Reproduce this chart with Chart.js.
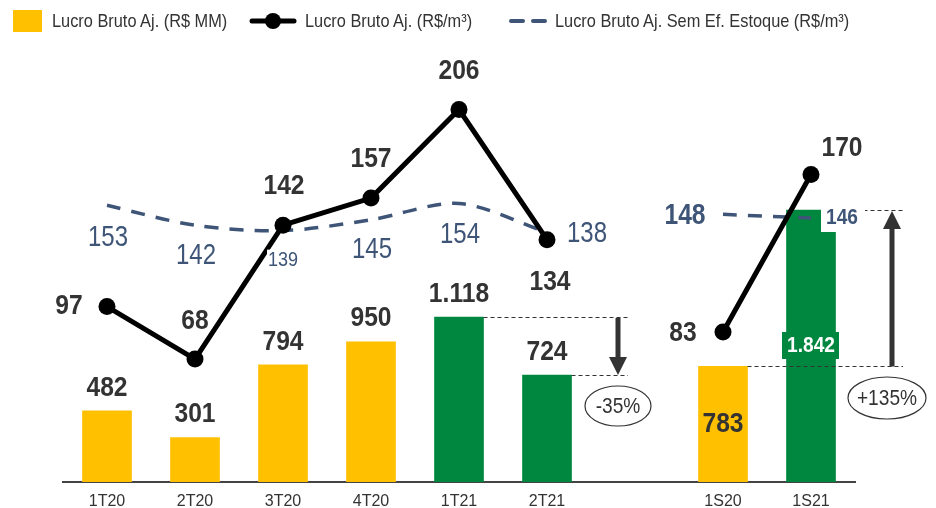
<!DOCTYPE html>
<html lang="pt-BR">
<head>
  <meta charset="UTF-8" />
  <title>Lucro Bruto Ajustado</title>
  <script src="https://cdn.jsdelivr.net/npm/chart.js"></script>
  <style>
    html, body { margin: 0; padding: 0; background: #fff; }
    body { font-family: 'Liberation Sans', Arial, sans-serif; }
    #wrap { position: relative; width: 936px; height: 508px; }
    .leg { position: absolute; top: 0; height: 42px; display: flex; align-items: center; font-size: 19px; color: #333; white-space: nowrap; }
    .leg span { display: inline-block; transform: scaleX(0.86); transform-origin: left center; }
    .leg svg { display: block; }
    canvas { position: absolute; left: 0; top: 0; }
  </style>
</head>
<body>
<div id="wrap">
  <canvas id="chart" width="936" height="508"></canvas>
  <div class="leg" style="left:13px;">
    <svg width="29" height="22"><rect width="29" height="22" fill="#FFC000"/></svg>
  </div>
  <div class="leg" style="left:52px;"><span>Lucro Bruto Aj. (R$ MM)</span></div>
  <div class="leg" style="left:249px;">
    <svg width="48" height="20"><line x1="3" y1="10" x2="45" y2="10" stroke="#000" stroke-width="5" stroke-linecap="round"/><circle cx="24" cy="10" r="8" fill="#000"/></svg>
  </div>
  <div class="leg" style="left:305px;"><span>Lucro Bruto Aj. (R$/m³)</span></div>
  <div class="leg" style="left:509px;">
    <svg width="38" height="20"><line x1="2" y1="10" x2="36" y2="10" stroke="#3E5578" stroke-width="4" stroke-dasharray="12 10" stroke-linecap="round"/></svg>
  </div>
  <div class="leg" style="left:555px;"><span>Lucro Bruto Aj. Sem Ef. Estoque (R$/m³)</span></div>
</div>

<script>
  // data
  const categories = ['1T20', '2T20', '3T20', '4T20', '1T21', '2T21', '', '1S20', '1S21'];
  const lucroMM = [482, 301, 794, 950, 1118, 724, null, 783, 1842];
  const lucroM3 = [97, 68, 142, 157, 206, 134, null, 83, 170];
  const lucroSemEstoque = [153, 142, 139, 145, 154, 138, null, 148, 146];
  const variacoes = ['-35%', '+135%'];

  const YELLOW = '#FFC000';
  const GREEN = '#00873F';
  const DARK = '#333333';
  const SLATE = '#3E5578';
  const FONT = "'Liberation Sans', Arial, sans-serif";

  const barColors = categories.map(c => c.indexOf('21') > -1 ? GREEN : YELLOW);

  const fmt = v => String(v).replace(/\B(?=(\d{3})+(?!\d))/g, '.');

  // label placement (offsets from the mark, in px)
  const m3Pos = [[-38, 0], [0, -38], [1, -39], [0, -39], [0, -38], [3, 43], null, [-40, 1], [31, -26]];
  const semPos = [[1, 32], [1, 31], [0, 30], [1, 30], [1, 31], [40, 1], null, [-38, 2], [31, 0]];

  // narrow-looking text: squeeze horizontally
  function text(ctx, str, x, y, font, color, sx) {
    ctx.save();
    ctx.font = font;
    ctx.fillStyle = color;
    ctx.textAlign = 'center';
    ctx.textBaseline = 'middle';
    ctx.translate(x, y);
    ctx.scale(sx || 0.88, 1);
    ctx.fillText(str, 0, 0);
    ctx.restore();
  }

  function arrow(ctx, x, y1, y2) {
    // shaft from y1 to y2, head at y2
    const dir = y2 > y1 ? 1 : -1;
    const head = 18;
    ctx.strokeStyle = DARK;
    ctx.fillStyle = DARK;
    ctx.lineWidth = 5;
    ctx.setLineDash([]);
    ctx.beginPath();
    ctx.moveTo(x, y1);
    ctx.lineTo(x, y2 - dir * head);
    ctx.stroke();
    ctx.beginPath();
    ctx.moveTo(x - 9, y2 - dir * head);
    ctx.lineTo(x + 9, y2 - dir * head);
    ctx.lineTo(x, y2);
    ctx.closePath();
    ctx.fill();
  }

  function dashed(ctx, x1, x2, y) {
    ctx.strokeStyle = DARK;
    ctx.lineWidth = 1;
    ctx.setLineDash([4, 3]);
    ctx.beginPath();
    ctx.moveTo(x1, Math.round(y) + 0.5);
    ctx.lineTo(x2, Math.round(y) + 0.5);
    ctx.stroke();
    ctx.setLineDash([]);
  }

  function badge(ctx, str, x, y, rx, ry) {
    ctx.strokeStyle = DARK;
    ctx.lineWidth = 1.2;
    ctx.setLineDash([]);
    ctx.beginPath();
    ctx.ellipse(x, y, rx, ry, 0, 0, Math.PI * 2);
    ctx.fillStyle = '#fff';
    ctx.fill();
    ctx.stroke();
    text(ctx, str, x, y + 1, '22px ' + FONT, DARK, 0.87);
  }

  const labelsPlugin = {
    id: 'labels',
    afterDatasetsDraw(chart) {
      const ctx = chart.ctx;
      const bars = chart.getDatasetMeta(2).data;
      const m3 = chart.getDatasetMeta(0).data;
      const sem = chart.getDatasetMeta(1).data;
      ctx.save();

      // annotations between periods
      const b1 = bars[4], b2 = bars[5], s1 = bars[7], s2 = bars[8];
      dashed(ctx, b1.x + b1.width / 2, 628, b1.y);
      dashed(ctx, b2.x + b2.width / 2, 628, b2.y);
      arrow(ctx, 618, b1.y + 1, b2.y);
      badge(ctx, variacoes[0], 618, 406, 33, 20);
      dashed(ctx, s1.x + s1.width / 2, 903, s1.y);
      dashed(ctx, s2.x + s2.width / 2, 903, s2.y);
      arrow(ctx, 892, s1.y, s2.y + 1);
      badge(ctx, variacoes[1], 887, 398, 39, 21);

      // bar labels
      bars.forEach((b, i) => {
        if (lucroMM[i] == null) return;
        if (i === 7) {
          text(ctx, fmt(lucroMM[i]), b.x, b.y + 58, 'bold 28px ' + FONT, DARK);
        } else if (i === 8) {
          ctx.fillStyle = GREEN;
          ctx.fillRect(b.x - 29, 332, 57, 27);
          text(ctx, fmt(lucroMM[i]), b.x, 346, 'bold 22px ' + FONT, '#fff', 0.87);
        } else {
          text(ctx, fmt(lucroMM[i]), b.x, b.y - 23, 'bold 28px ' + FONT, DARK);
        }
      });

      // "sem efeito estoque" labels
      sem.forEach((p, i) => {
        if (lucroSemEstoque[i] == null) return;
        const x = p.x + semPos[i][0], y = p.y + semPos[i][1];
        const s = String(lucroSemEstoque[i]);
        if (i === 2) {
          ctx.fillStyle = '#fff';
          ctx.fillRect(x - 16, y - 11, 32, 22);
          text(ctx, s, x, y, '20px ' + FONT, SLATE, 0.9);
        } else if (i === 7) {
          text(ctx, s, x, y, 'bold 29px ' + FONT, SLATE, 0.85);
        } else if (i === 8) {
          ctx.fillStyle = '#fff';
          ctx.fillRect(x - 21, y - 14, 44, 28);
          text(ctx, s, x, y, 'bold 22px ' + FONT, SLATE, 0.87);
        } else {
          text(ctx, s, x, y, '30px ' + FONT, SLATE, 0.8);
        }
      });

      // R$/m3 labels
      m3.forEach((p, i) => {
        if (lucroM3[i] == null) return;
        text(ctx, String(lucroM3[i]), p.x + m3Pos[i][0], p.y + m3Pos[i][1], 'bold 28px ' + FONT, DARK);
      });

      ctx.restore();
    }
  };

  new Chart(document.getElementById('chart'), {
    type: 'bar',
    data: {
      labels: categories,
      datasets: [
        {
          type: 'line',
          label: 'Lucro Bruto Aj. (R$/m³)',
          data: lucroM3,
          yAxisID: 'yLine',
          borderColor: '#000',
          backgroundColor: '#000',
          borderWidth: 5,
          pointRadius: 8.5,
          pointBorderWidth: 0,
          spanGaps: false,
          tension: 0,
          order: 0
        },
        {
          type: 'line',
          label: 'Lucro Bruto Aj. Sem Ef. Estoque (R$/m³)',
          data: lucroSemEstoque,
          yAxisID: 'yLine',
          borderColor: SLATE,
          borderWidth: 3.5,
          borderDash: [14, 11],
          pointRadius: 0,
          spanGaps: false,
          tension: 0.3,
          order: 1
        },
        {
          label: 'Lucro Bruto Aj. (R$ MM)',
          data: lucroMM,
          yAxisID: 'yBar',
          backgroundColor: barColors,
          barThickness: 49,
          order: 2
        }
      ]
    },
    options: {
      responsive: false,
      animation: false,
      layout: { padding: { left: 63, right: 81, top: 48, bottom: 0 } },
      plugins: {
        legend: { display: false },
        tooltip: { enabled: false }
      },
      scales: {
        x: {
          grid: { display: false, drawTicks: false },
          border: { display: true, color: '#444', width: 2 },
          ticks: { color: DARK, font: { family: FONT, size: 16 }, padding: 10 },
          afterFit: s => { s.height = 26; }
        },
        yBar: { display: false, min: 0, max: 2940 },
        yLine: { display: false, min: 0, max: 240 }
      }
    },
    plugins: [labelsPlugin]
  });
</script>
</body>
</html>
